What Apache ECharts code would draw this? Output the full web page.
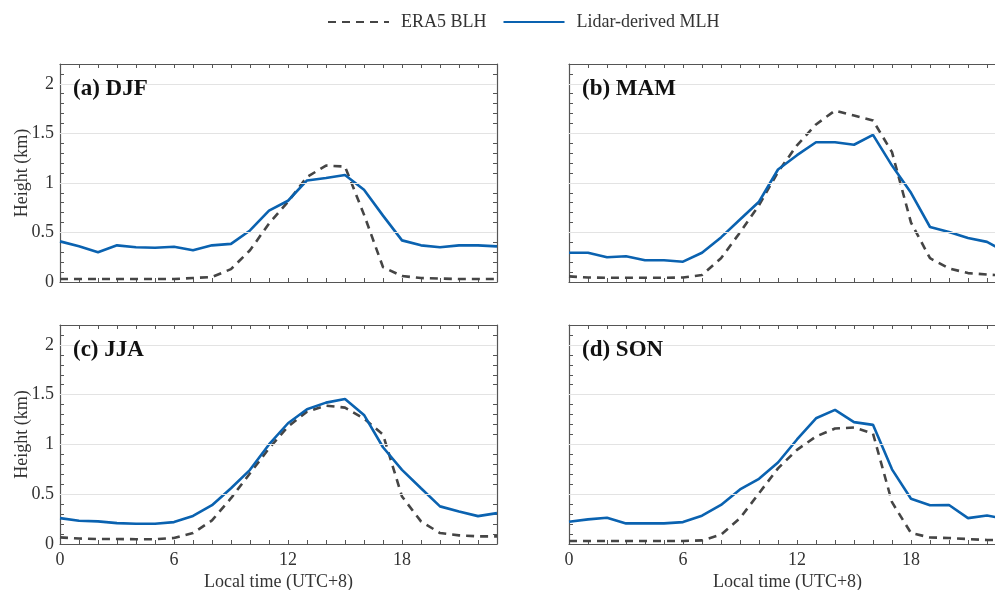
<!DOCTYPE html>
<html>
<head>
<meta charset="utf-8">
<script src="https://cdn.jsdelivr.net/npm/echarts@6/dist/echarts.min.js"></script>
<style>
  html, body { margin: 0; padding: 0; background: #fff; }
  #chart { width: 995px; height: 590px; }
</style>
</head>
<body>
<div id="chart"></div>
<script>
// hours of the day (local time, UTC+8)
const hours = [0,1,2,3,4,5,6,7,8,9,10,11,12,13,14,15,16,17,18,19,20,21,22,23];
const xTickLabels = [0, 6, 12, 18];
const yTickLabels = [0, 0.5, 1, 1.5, 2];

const panelTitles = ['(a) DJF', '(b) MAM', '(c) JJA', '(d) SON'];
const seriesNames = ['ERA5 BLH', 'Lidar-derived MLH'];

// ERA5 BLH (km)
const era5DJF = [0.03,0.03,0.03,0.03,0.03,0.03,0.03,0.04,0.05,0.13,0.32,0.59,0.81,1.06,1.175,1.165,0.68,0.15,0.06,0.04,0.035,0.03,0.03,0.03];
const era5MAM = [0.057,0.045,0.043,0.043,0.043,0.043,0.045,0.07,0.24,0.50,0.775,1.11,1.38,1.59,1.73,1.68,1.63,1.31,0.60,0.24,0.137,0.09,0.075,0.065];
const era5JJA = [0.067,0.055,0.05,0.05,0.048,0.048,0.06,0.11,0.237,0.46,0.71,0.96,1.18,1.33,1.39,1.37,1.26,1.1,0.477,0.227,0.11,0.087,0.077,0.077];
const era5SON = [0.03,0.03,0.03,0.03,0.03,0.03,0.03,0.036,0.094,0.26,0.51,0.76,0.946,1.08,1.16,1.17,1.11,0.42,0.11,0.066,0.06,0.05,0.04,0.04];

// Lidar-derived MLH (km)
const lidarDJF = [0.41,0.36,0.30,0.37,0.35,0.345,0.355,0.32,0.37,0.385,0.52,0.72,0.82,1.025,1.05,1.08,0.93,0.67,0.42,0.37,0.35,0.37,0.37,0.36];
const lidarMAM = [0.295,0.295,0.25,0.26,0.22,0.22,0.205,0.295,0.45,0.63,0.81,1.135,1.28,1.41,1.41,1.385,1.485,1.175,0.90,0.555,0.505,0.445,0.405,0.30];
const lidarJJA = [0.26,0.234,0.227,0.21,0.204,0.204,0.22,0.282,0.39,0.56,0.745,1.0,1.213,1.354,1.42,1.457,1.297,0.972,0.745,0.56,0.378,0.327,0.28,0.31];
const lidarSON = [0.224,0.247,0.264,0.207,0.207,0.207,0.22,0.284,0.392,0.548,0.655,0.819,1.05,1.263,1.347,1.224,1.197,0.75,0.455,0.39,0.392,0.26,0.287,0.25];

const era5All = [era5DJF, era5MAM, era5JJA, era5SON];
const lidarAll = [lidarDJF, lidarMAM, lidarJJA, lidarSON];

const FONT = '"Liberation Serif", "Times New Roman", serif';
const FRAME = '#555';
const ERA5_COLOR = '#454545';
const LIDAR_COLOR = '#0a62b0';

// panel boxes (right column runs past the canvas edge, as in the original)
const boxes = [
  { left: 60,  top: 64,  width: 437, height: 218 },
  { left: 569, top: 64,  width: 437, height: 218 },
  { left: 60,  top: 325, width: 437, height: 219 },
  { left: 569, top: 325, width: 437, height: 219 }
];

const near = (v, list) => list.some(t => Math.abs(v - t) < 1e-6);

const grid = [], xAxis = [], yAxis = [], series = [], title = [];

boxes.forEach((b, i) => {
  const isLeft = i % 2 === 0;
  const isBottom = i >= 2;
  grid.push({ ...b, containLabel: false, outerBoundsMode: 'none' });

  title.push({
    text: panelTitles[i],
    left: b.left + 13,
    top: b.top + 14,
    padding: 0,
    textStyle: { fontFamily: FONT, fontSize: 23, fontWeight: 'bold', color: '#111' }
  });

  const tickStyle = { show: true, inside: true, length: 4, lineStyle: { color: FRAME, width: 1 } };
  const frameLine = { show: true, onZero: false, lineStyle: { color: FRAME, width: 1.2 } };

  // bottom x axis
  xAxis.push({
    type: 'value', gridIndex: i, position: 'bottom', min: 0, max: 23, interval: 1,
    axisLine: frameLine,
    axisTick: tickStyle,
    splitLine: { show: false },
    axisLabel: {
      show: isBottom, margin: 7, color: '#333', fontFamily: FONT, fontSize: 18,
      formatter: v => near(v, xTickLabels) ? String(v) : ''
    },
    name: isBottom ? 'Local time (UTC+8)' : '',
    nameLocation: 'middle', nameGap: 29, nameMoveOverlap: false,
    nameTextStyle: { fontFamily: FONT, fontSize: 18, color: '#333' }
  });
  // top x axis (frame + ticks)
  xAxis.push({
    type: 'value', gridIndex: i, position: 'top', min: 0, max: 23, interval: 1,
    axisLine: frameLine,
    axisTick: tickStyle,
    axisLabel: { show: false },
    splitLine: { show: false }
  });

  // left y axis: ticks every 0.1, labels every 0.5
  yAxis.push({
    type: 'value', gridIndex: i, position: 'left', min: 0, max: 2.2, interval: 0.1,
    axisLine: frameLine,
    axisTick: tickStyle,
    splitLine: { show: false },
    axisLabel: {
      show: isLeft, margin: 6, color: '#333', fontFamily: FONT, fontSize: 18,
      formatter: v => near(v, yTickLabels) ? String(Math.round(v * 10) / 10) : ''
    },
    name: isLeft ? 'Height (km)' : '',
    nameLocation: 'middle', nameGap: 29, nameRotate: 90, nameMoveOverlap: false,
    nameTextStyle: { fontFamily: FONT, fontSize: 18, color: '#333' }
  });
  // right y axis (frame + ticks)
  yAxis.push({
    type: 'value', gridIndex: i, position: 'right', min: 0, max: 2.2, interval: 0.1,
    axisLine: frameLine,
    axisTick: tickStyle,
    axisLabel: { show: false },
    splitLine: { show: false }
  });

  const xi = i * 2, yi = i * 2;
  // horizontal gridlines at the labelled heights
  series.push({
    type: 'line', xAxisIndex: xi, yAxisIndex: yi, data: [], z: 1, silent: true,
    markLine: {
      silent: true, symbol: 'none', animation: false,
      label: { show: false },
      lineStyle: { color: '#e3e3e3', width: 1, type: 'solid' },
      data: yTickLabels.filter(v => v > 0).map(v => ({ yAxis: v }))
    }
  });
  series.push({
    name: seriesNames[0], type: 'line', xAxisIndex: xi, yAxisIndex: yi,
    data: hours.map((h, k) => [h, era5All[i][k]]),
    symbol: 'none', z: 3,
    lineStyle: { color: ERA5_COLOR, width: 2.6, type: [8, 6] },
    itemStyle: { color: ERA5_COLOR }
  });
  series.push({
    name: seriesNames[1], type: 'line', xAxisIndex: xi, yAxisIndex: yi,
    data: hours.map((h, k) => [h, lidarAll[i][k]]),
    symbol: 'none', z: 4,
    lineStyle: { color: LIDAR_COLOR, width: 2.6 },
    itemStyle: { color: LIDAR_COLOR }
  });
});

const chart = echarts.init(document.getElementById('chart'), null, { renderer: 'canvas' });
chart.setOption({
  backgroundColor: '#fff',
  animation: false,
  title,
  legend: {
    data: seriesNames,
    left: 322, top: 8,
    itemWidth: 61, itemHeight: 14, itemGap: 16,
    itemStyle: { opacity: 0 },
    textStyle: { fontFamily: FONT, fontSize: 18, color: '#333', padding: [0, 0, 0, 7] }
  },
  grid, xAxis, yAxis, series
});
</script>
</body>
</html>
